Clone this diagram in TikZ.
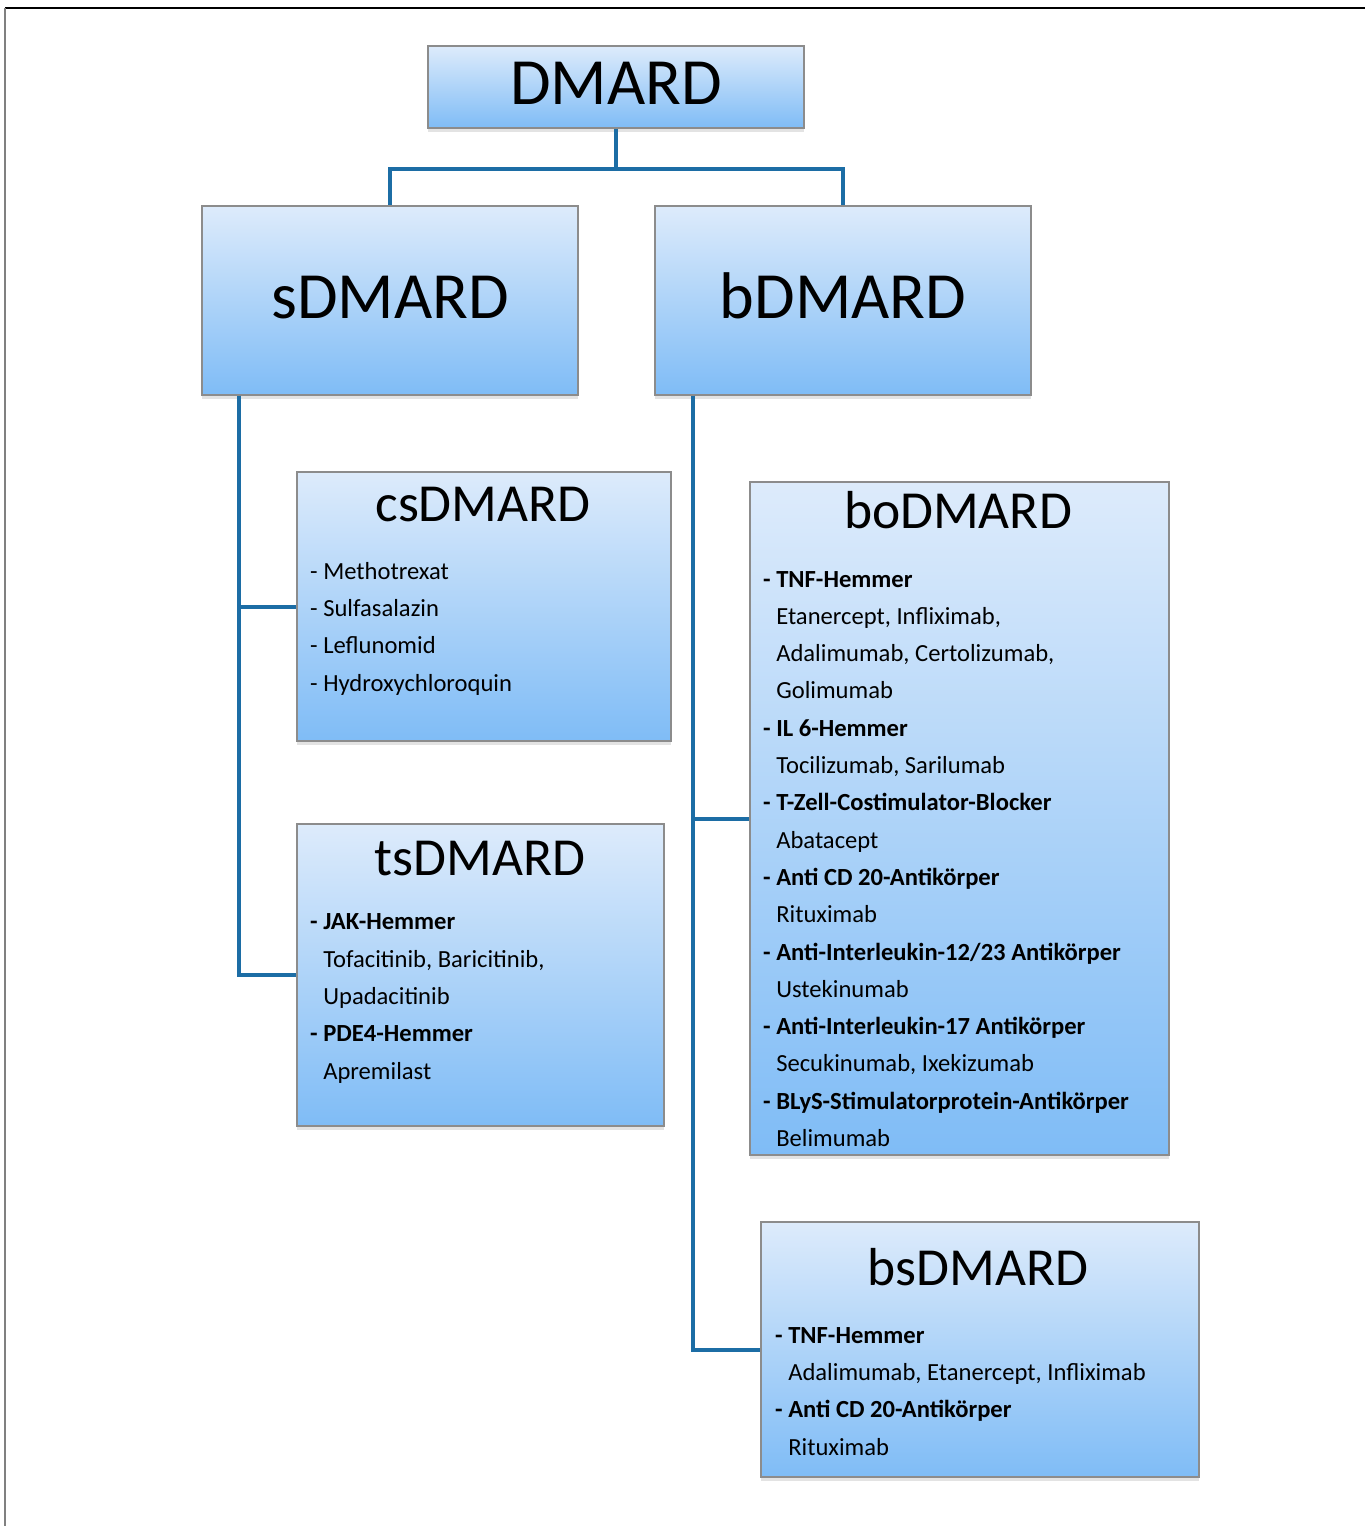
\documentclass[tikz,border=0pt]{standalone}
\usepackage{fontspec}
\setmainfont{Carlito}
\usetikzlibrary{calc, shadows}
\definecolor{linkColor}{HTML}{1C6DA5}
\definecolor{boxTop}{HTML}{DDEBFB}
\definecolor{boxBottom}{HTML}{7FBCF6}
\definecolor{boxEdge}{HTML}{8C8C8C}
\newcommand{\ind}{\hphantom{\textbf{- }}}

\begin{document}
\begin{tikzpicture}[x=1pt, y=-1pt,
    box/.style={draw=boxEdge, line width=1.2pt, top color=boxTop,
        bottom color=boxBottom, inner sep=0pt,
        drop shadow={shadow xshift=0pt, shadow yshift=-4pt, opacity=0.22}},
    head/.style={anchor=base, inner sep=0pt, font=\fontsize{66}{70}\selectfont},
    title/.style={anchor=base, inner sep=0pt, font=\fontsize{53.5}{60}\selectfont},
    items/.style={anchor=base west, align=left, inner sep=0pt,
        font=\fontsize{24.6}{37.3}\selectfont},
    link/.style={draw=linkColor, line width=4pt}]

    \useasboundingbox (0,0) rectangle (1365,1526);

    % frame
    \draw[line width=1.5pt] (1365,8) -- (5,8);
    \draw[gray, line width=2pt] (5,8) -- (5,1526);

    % boxes
    \node[box, minimum width=376, minimum height=82] (dmard) at (616,87) {};
    \node[box, minimum width=376, minimum height=189] (sd) at (390,300.5) {};
    \node[box, minimum width=376, minimum height=189] (bd) at (843,300.5) {};
    \node[box, minimum width=374, minimum height=269] (cs) at (484,606.5) {};
    \node[box, minimum width=367, minimum height=302] (ts) at (480.5,975) {};
    \node[box, minimum width=419, minimum height=673] (bo) at (959.5,818.5) {};
    \node[box, minimum width=438, minimum height=255] (bs) at (980,1349.5) {};

    % titles
    \node[head] (dmard-t) at (616,104) {DMARD};
    \node[head] (sd-t) at (390,318) {sDMARD};
    \node[head] (bd-t) at (843,318) {bDMARD};
    \node[title] (cs-t) at (483,521) {csDMARD};
    \node[title] (ts-t) at (480,875) {tsDMARD};
    \node[title] (bo-t) at (958,528) {boDMARD};
    \node[title] (bs-t) at (978,1285) {bsDMARD};

    % lists (placed at the baseline of their last line)
    \node[items] (cs-l) at (310,691) {- Methotrexat\\- Sulfasalazin\\
        - Leflunomid\\- Hydroxychloroquin};
    \node[items] (ts-l) at (310,1079) {\textbf{- JAK-Hemmer}\\
        \ind Tofacitinib, Baricitinib,\\\ind Upadacitinib\\
        \textbf{- PDE4-Hemmer}\\\ind Apremilast};
    \node[items] (bo-l) at (763,1146.5) {\textbf{- TNF-Hemmer}\\
        \ind Etanercept, Infliximab,\\\ind Adalimumab, Certolizumab,\\
        \ind Golimumab\\\textbf{- IL 6-Hemmer}\\\ind Tocilizumab, Sarilumab\\
        \textbf{- T-Zell-Costimulator-Blocker}\\\ind Abatacept\\
        \textbf{- Anti CD 20-Antikörper}\\\ind Rituximab\\
        \textbf{- Anti-Interleukin-12/23 Antikörper}\\\ind Ustekinumab\\
        \textbf{- Anti-Interleukin-17 Antikörper}\\\ind Secukinumab, Ixekizumab\\
        \textbf{- BLyS-Stimulatorprotein-Antikörper}\\\ind Belimumab};
    \node[items] (bs-l) at (775,1455) {\textbf{- TNF-Hemmer}\\
        \ind Adalimumab, Etanercept, Infliximab\\
        \textbf{- Anti CD 20-Antikörper}\\\ind Rituximab};

    % connectors
    \draw[link] (dmard.south) -- ++(0,40) coordinate (fork) -| (sd.north);
    \draw[link] (fork) -| (bd.north);
    \coordinate (sfoot) at ($(sd.south west)+(38,0)$);
    \coordinate (bfoot) at ($(bd.south west)+(39,0)$);
    \draw[link] (sfoot) |- (cs.west);
    \draw[link] (sfoot) |- (ts.west);
    \draw[link] (bfoot) |- (bo.west);
    \draw[link] (bfoot) |- (bs.west);
\end{tikzpicture}
\end{document}
